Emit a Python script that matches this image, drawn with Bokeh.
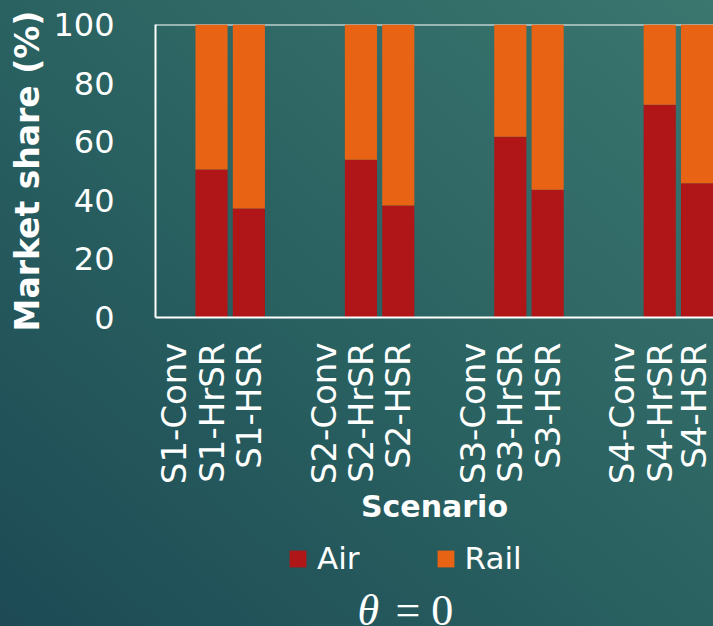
import math
from bokeh.plotting import figure
from bokeh.layouts import column
from bokeh.models import (Range1d, FixedTicker, Legend, LegendItem, Span, Label,
                          ColumnDataSource)
from bokeh.embed import file_html
from bokeh.resources import INLINE

# Scenario labels (four scenarios, three rail options each)
scenarios = ["S1-Conv", "S1-HrSR", "S1-HSR",
             "S2-Conv", "S2-HrSR", "S2-HSR",
             "S3-Conv", "S3-HrSR", "S3-HSR",
             "S4-Conv", "S4-HrSR", "S4-HSR"]
# Market share (%) per mode
air = [0, 50.5, 37.2,
       0, 53.8, 38.2,
       0, 61.7, 43.6,
       0, 72.6, 45.8]
rail = [0, 49.5, 62.8,
        0, 46.2, 61.8,
        0, 38.3, 56.4,
        0, 27.4, 54.2]
y_ticks = [0, 20, 40, 60, 80, 100]

# one empty slot between scenario groups
pos = [i + i // 3 for i in range(len(scenarios))]

AIR_COLOR = "#b01517"
RAIL_COLOR = "#e86313"
FONT = "DejaVu Sans"
W, H, H_TOP = 713, 626, 534
GRADIENT = "linear-gradient(to top right, #1d4a55 0%, #2a6261 50%, #3b766f 100%)"

src = ColumnDataSource(dict(pos=pos, air=air, rail=rail, label=scenarios))

# ---- main chart ----
p = figure(width=W, height=H_TOP,
           x_range=Range1d(-0.5, 14.44), y_range=Range1d(0, 100),
           output_backend="svg", toolbar_location=None,
           min_border_left=155, min_border_right=0,
           min_border_top=24, min_border_bottom=H_TOP - 317)
p.border_fill_color = None
p.background_fill_color = None
p.outline_line_color = None
p.styles = {"background": GRADIENT, "background-size": f"{W}px {H}px",
            "background-position": "0 0"}
p.xgrid.visible = False
p.ygrid.visible = False

renderers = p.vbar_stack(["air", "rail"], x="pos", width=0.86, source=src,
                         fill_color=[AIR_COLOR, RAIL_COLOR], line_color=None)

# top edge of the plot area, drawn beneath the bars
p.add_layout(Span(location=100, dimension="width", line_color="white",
                  line_width=2, level="underlay"))

xa = p.xaxis[0]
xa.ticker = FixedTicker(ticks=pos)
xa.major_label_overrides = {x: s for x, s in zip(pos, scenarios)}
xa.major_label_orientation = math.pi / 2
xa.major_label_text_font = FONT
xa.major_label_text_font_size = "34px"
xa.major_label_text_color = "white"
xa.major_label_standoff = 19
xa.major_tick_line_color = None
xa.minor_tick_line_color = None
xa.axis_line_color = "white"
xa.axis_line_width = 2
xa.axis_label = "Scenario"
xa.axis_label_text_font = FONT
xa.axis_label_text_font_style = "bold"
xa.axis_label_text_font_size = "30px"
xa.axis_label_text_color = "white"
xa.axis_label_standoff = 2

ya = p.yaxis[0]
ya.ticker = FixedTicker(ticks=y_ticks)
ya.major_label_text_font = FONT
ya.major_label_text_font_size = "32px"
ya.major_label_text_color = "white"
ya.major_label_standoff = 35
ya.major_tick_line_color = None
ya.minor_tick_line_color = None
ya.axis_line_color = "white"
ya.axis_line_width = 2
ya.axis_label = "Market share (%)"
ya.axis_label_text_font = FONT
ya.axis_label_text_font_style = "bold"
ya.axis_label_text_font_size = "33px"
ya.axis_label_text_color = "white"
ya.axis_label_standoff = 3

# ---- legend and caption strip (frame aligned with the chart above) ----
q = figure(width=W, height=H - H_TOP,
           x_range=Range1d(0, 1), y_range=Range1d(0, 1),
           output_backend="svg", toolbar_location=None,
           x_axis_location=None, y_axis_location=None,
           min_border=0)
q.border_fill_color = None
q.background_fill_color = None
q.outline_line_color = None
q.styles = {"background": GRADIENT, "background-size": f"{W}px {H}px",
            "background-position": f"0 -{H_TOP}px"}
q.xgrid.visible = False
q.ygrid.visible = False

# zero-size keys that only carry the legend swatch colours
key_air = q.vbar(x=[0], top=[0], width=0, fill_color=AIR_COLOR, line_color=None)
key_rail = q.vbar(x=[0], top=[0], width=0, fill_color=RAIL_COLOR, line_color=None)

legend = Legend(items=[LegendItem(label="Air", renderers=[key_air]),
                       LegendItem(label="Rail", renderers=[key_rail])],
                orientation="horizontal", location=(132, 50),
                glyph_width=21, glyph_height=21, label_standoff=9, spacing=75,
                padding=0, margin=0, border_line_color=None,
                background_fill_color=None,
                label_text_font=FONT, label_text_font_size="31px",
                label_text_color="white")
q.add_layout(legend, "center")

q.add_layout(Label(x=202, y=16, x_units="screen", y_units="screen", text="θ",
                   text_font="Liberation Serif", text_font_style="italic",
                   text_font_size="44px", text_color="white",
                   text_baseline="alphabetic"))
q.add_layout(Label(x=240, y=16, x_units="screen", y_units="screen", text="= 0",
                   text_font="Liberation Serif",
                   text_font_size="44px", text_color="white",
                   text_baseline="alphabetic"))

layout = column(p, q, spacing=0)
open("out.html", "w").write(file_html(layout, INLINE))
